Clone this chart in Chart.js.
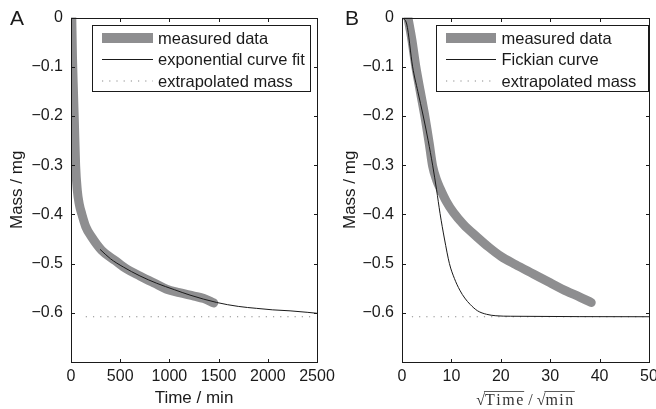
<!DOCTYPE html>
<html>
<head>
<meta charset="utf-8">
<script src="https://cdn.jsdelivr.net/npm/chart.js@4.4.1/dist/chart.umd.min.js"></script>
<style>
  html, body { margin: 0; padding: 0; background: #fff; overflow: hidden; width: 656px; height: 409px; }
  canvas { position: absolute; top: 0; }
</style>
</head>
<body>
<canvas id="chartA" width="345" height="409" style="left:0;width:345px;height:409px"></canvas>
<canvas id="chartB" width="340" height="409" style="left:330px;width:340px;height:409px"></canvas>
<script>
// ---- values ----
// panel A: mass vs time
const timeA = [8, 15, 25, 34, 47, 64, 85, 108, 150, 210, 312, 450, 566, 700, 850, 972, 1100, 1250, 1350, 1450];
const massA = [0, -0.08, -0.15, -0.21, -0.30, -0.351, -0.38, -0.398, -0.425, -0.446, -0.473, -0.494, -0.511, -0.525, -0.540, -0.552, -0.559, -0.566, -0.571, -0.580];
const fitTime = [295, 400, 532, 700, 871, 1050, 1209, 1480, 1700, 1887, 2050, 2226, 2400, 2500];
const fitMass = [-0.471, -0.490, -0.507, -0.525, -0.540, -0.553, -0.564, -0.579, -0.587, -0.591, -0.594, -0.596, -0.599, -0.601];
const extraTimeA = [150, 2450];
const extraMassA = [-0.608, -0.608];

// panel B: mass vs sqrt(time)
const rootB = [1.2, 2.0, 2.8, 3.7, 4.65, 5.5, 6.2, 7.0, 7.7, 9.0, 10.4, 12.5, 15.1, 17.5, 20.0, 23.0, 26.6, 30.0, 33.3, 36.0, 38.3];
const massB = [0, -0.045, -0.10, -0.15, -0.202, -0.255, -0.302, -0.330, -0.347, -0.374, -0.396, -0.421, -0.445, -0.466, -0.485, -0.502, -0.521, -0.539, -0.556, -0.568, -0.579];
const fickRoot = [0, 0.95, 2.15, 3.2, 4.3, 5.3, 6.2, 7.0, 7.7, 8.6, 9.6, 10.6, 11.7, 12.7, 13.8, 15.3, 17.1, 19, 22, 50];
const fickMass = [0, -0.013, -0.10, -0.15, -0.20, -0.25, -0.30, -0.35, -0.398, -0.45, -0.50, -0.53, -0.554, -0.570, -0.583, -0.596, -0.603, -0.606, -0.607, -0.608];
const extraRootB = [2, 50];
const extraMassB = [-0.608, -0.608];

// tick labels
const xTicksA = [0, 500, 1000, 1500, 2000, 2500];
const xTicksB = [0, 10, 20, 30, 40, 50];
const yTicks = [0, -0.1, -0.2, -0.3, -0.4, -0.5, -0.6, -0.7];

const GREY = '#8e8e90';
const INK = '#1a1a1a';
const SANS = '"Liberation Sans", Arial, sans-serif';

function pts(xs, ys) { return xs.map((v, i) => ({ x: v, y: ys[i] })); }
function yLabel(v) {
  if (Math.abs(v + 0.7) < 1e-6) return '';
  if (Math.abs(v) < 1e-9) return '0';
  return '\u2212' + Math.abs(v).toFixed(1);
}

// box with inward ticks, legend, panel letter
const framePlugin = {
  id: 'frame',
  afterDatasetsDraw(chart) {
    const { ctx, chartArea: a, scales: { x, y } } = chart;
    const o = chart.options.plugins.frame;
    ctx.save();
    ctx.strokeStyle = INK;
    ctx.lineWidth = 1;
    const L = Math.round(a.left) + 0.5, R = Math.round(a.right) + 0.5;
    const T = Math.round(a.top) + 0.5, B = Math.round(a.bottom) + 0.5;
    ctx.strokeRect(L, T, R - L, B - T);
    const len = 3.5;
    ctx.beginPath();
    x.ticks.forEach(t => {
      const px = Math.round(x.getPixelForValue(t.value)) + 0.5;
      ctx.moveTo(px, B); ctx.lineTo(px, B - len);
      ctx.moveTo(px, T); ctx.lineTo(px, T + len);
    });
    y.ticks.forEach(t => {
      const py = Math.round(y.getPixelForValue(t.value)) + 0.5;
      ctx.moveTo(L, py); ctx.lineTo(L + len, py);
      ctx.moveTo(R, py); ctx.lineTo(R - len, py);
    });
    ctx.stroke();

    // legend
    const lg = o.legend;
    ctx.fillStyle = '#fff';
    ctx.fillRect(lg.left, lg.top, lg.right - lg.left, lg.bottom - lg.top);
    ctx.strokeStyle = INK;
    ctx.strokeRect(lg.left + 0.5, lg.top + 0.5, lg.right - lg.left, lg.bottom - lg.top);
    ctx.font = '16.5px ' + SANS;
    ctx.textBaseline = 'middle';
    chart.data.datasets.forEach((ds, i) => {
      const ry = lg.rows[i];
      ctx.save();
      ctx.strokeStyle = ds.borderColor;
      ctx.lineWidth = ds.legendWidth || ds.borderWidth;
      ctx.setLineDash(ds.borderDash || []);
      ctx.beginPath();
      ctx.moveTo(lg.sample[0], ry);
      ctx.lineTo(lg.sample[1], ry);
      ctx.stroke();
      ctx.restore();
      ctx.fillStyle = INK;
      ctx.fillText(ds.label, lg.text, ry + 1);
    });

    // panel letter
    ctx.font = '21px ' + SANS;
    ctx.textBaseline = 'alphabetic';
    ctx.fillStyle = INK;
    ctx.fillText(o.letter[0], o.letter[1], o.letter[2]);

    if (o.rootTitle) drawRootTitle(chart);
    ctx.restore();
  }
};

// x title of panel B: square-root signs with bars
function drawRootTitle(chart) {
  const { ctx, chartArea: a } = chart;
  ctx.save();
  ctx.font = '16px "Liberation Serif", "DejaVu Serif", serif';
  ctx.fillStyle = '#333';
  ctx.strokeStyle = '#333';
  ctx.lineWidth = 0.8;
  ctx.textBaseline = 'alphabetic';
  const parts = [['\u221A', false], ['Time', true], [' / ', false], ['\u221A', false], ['min', true]];
  const gap = 1.5;
  const widths = parts.map(p => ctx.measureText(p[0]).width + (p[1] ? gap * p[0].length : 0));
  const total = widths.reduce((s, w) => s + w, 0);
  let x = (a.left + a.right) / 2 - total / 2;
  const base = 405;
  parts.forEach(([s, bar], i) => {
    if (bar) {
      let cx = x;
      for (const ch of s) { ctx.fillText(ch, cx, base); cx += ctx.measureText(ch).width + gap; }
      ctx.beginPath();
      ctx.moveTo(x - 1, base - 13.5);
      ctx.lineTo(x + widths[i], base - 13.5);
      ctx.stroke();
    } else {
      ctx.fillText(s, x, base);
    }
    x += widths[i];
  });
  ctx.restore();
}

function makeChart(id, cfg) {
  const lineBase = { pointRadius: 0, fill: false, clip: 0, cubicInterpolationMode: 'monotone' };
  return new Chart(document.getElementById(id), {
    type: 'line',
    data: {
      datasets: [
        { ...lineBase, label: 'measured data', data: cfg.measured, borderColor: GREY, borderWidth: 9,
          legendWidth: 10, borderCapStyle: 'round', borderJoinStyle: 'round', order: 2 },
        { ...lineBase, label: cfg.curveLabel, data: cfg.curve, borderColor: INK, borderWidth: 1, order: 0 },
        { ...lineBase, label: 'extrapolated mass', data: cfg.extra, borderColor: '#8a8a8a', borderWidth: 1.2,
          borderDash: [1.2, 6], order: 1 }
      ]
    },
    options: {
      responsive: false,
      animation: false,
      devicePixelRatio: 1,
      layout: { padding: cfg.padding },
      plugins: {
        legend: { display: false },
        tooltip: { enabled: false },
        frame: { legend: cfg.legend, letter: cfg.letter, rootTitle: cfg.rootTitle }
      },
      scales: {
        x: {
          type: 'linear', min: cfg.xTicks[0], max: cfg.xTicks[cfg.xTicks.length - 1],
          afterBuildTicks: s => { s.ticks = cfg.xTicks.map(v => ({ value: v })); },
          afterFit: s => { s.height = 47; },
          grid: { display: false, drawTicks: false },
          border: { display: false },
          ticks: { padding: 5, color: INK, font: { family: SANS, size: 16 }, maxRotation: 0, autoSkip: false,
                   callback: v => String(v) },
          title: { display: !cfg.rootTitle, text: cfg.xTitle, color: INK, font: { family: SANS, size: 17 }, padding: 0 }
        },
        y: {
          type: 'linear', min: -0.7, max: 0,
          afterBuildTicks: s => { s.ticks = yTicks.map(v => ({ value: v })); },
          afterFit: s => { s.width = cfg.yWidth; },
          grid: { display: false, drawTicks: false },
          border: { display: false },
          ticks: { padding: 8, color: INK, font: { family: SANS, size: 16 }, callback: yLabel },
          title: { display: true, text: 'Mass / mg', color: INK, font: { family: SANS, size: 17 }, padding: 0 }
        }
      }
    },
    plugins: [framePlugin]
  });
}

makeChart('chartA', {
  measured: pts(timeA, massA),
  curve: pts(fitTime, fitMass),
  extra: pts(extraTimeA, extraMassA),
  curveLabel: 'exponential curve fit',
  xTicks: xTicksA,
  xTitle: 'Time / min',
  padding: { left: 7, top: 17, right: 28, bottom: 0 },
  yWidth: 64,
  legend: { left: 92, top: 25, right: 310, bottom: 91, rows: [38, 59.5, 81], sample: [102, 153], text: 158 },
  letter: ['A', 10, 25]
});

makeChart('chartB', {
  measured: pts(rootB, massB),
  curve: pts(fickRoot, fickMass),
  extra: pts(extraRootB, extraMassB),
  curveLabel: 'Fickian curve',
  xTicks: xTicksB,
  xTitle: '',
  rootTitle: true,
  padding: { left: 10, top: 17, right: 21, bottom: 0 },
  yWidth: 62,
  legend: { left: 106, top: 25, right: 318, bottom: 91, rows: [38, 59.5, 81], sample: [116, 166], text: 171.5 },
  letter: ['B', 15, 25]
});
</script>
</body>
</html>
